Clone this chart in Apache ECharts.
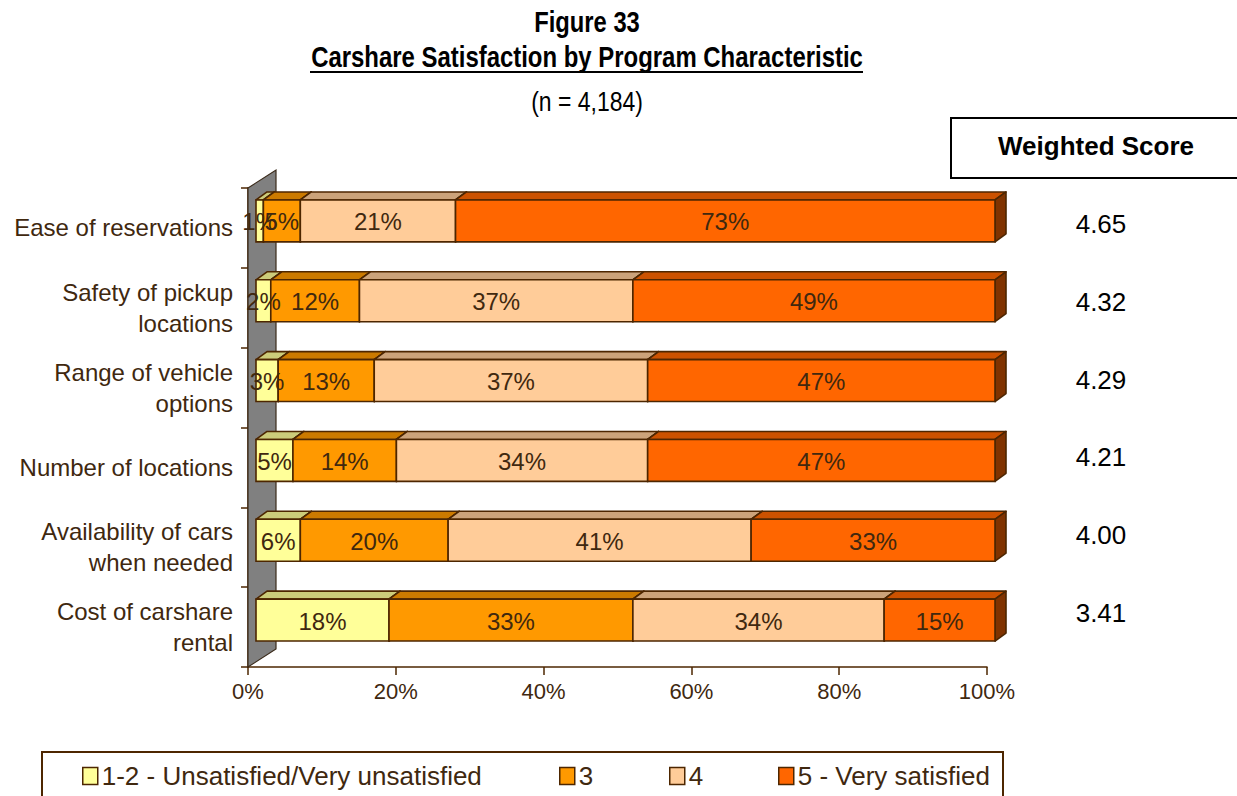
<!DOCTYPE html>
<html>
<head>
<meta charset="utf-8">
<script src="https://cdn.jsdelivr.net/npm/echarts@6/dist/echarts.min.js"></script>
<style>
  html, body { margin: 0; padding: 0; background: #ffffff; }
  #chart { width: 1237px; height: 796px; }
</style>
</head>
<body>
<div id="chart"></div>
<script>
// Survey categories (top to bottom) and the share of responses per rating, in percent
const categories = [
  'Ease of reservations',
  'Safety of pickup\nlocations',
  'Range of vehicle\noptions',
  'Number of locations',
  'Availability of cars\nwhen needed',
  'Cost of carshare\nrental'
];
const seriesNames = ['1-2 - Unsatisfied/Very unsatisfied', '3', '4', '5 - Very satisfied'];
const unsatisfied   = [1, 2, 3, 5, 6, 18];
const rating3       = [5, 12, 13, 14, 20, 33];
const rating4       = [21, 37, 37, 34, 41, 34];
const verySatisfied = [73, 49, 47, 47, 33, 15];
const weightedScores = [4.65, 4.32, 4.29, 4.21, 4.00, 3.41];
const xTicks = [0, 20, 40, 60, 80, 100];

const seriesValues = [unsatisfied, rating3, rating4, verySatisfied];
const faceColors = [
  { front: '#FFFF99', top: '#CCCC7A', side: '#999973' },
  { front: '#FF9900', top: '#CC7A00', side: '#7F4C00' },
  { front: '#FFCC99', top: '#CCA37A', side: '#7F664C' },
  { front: '#FF6600', top: '#CC5200', side: '#803300' }
];
const EDGE = '#4D2600';
const TEXT_BROWN = '#40280F';
const FONT = '"Liberation Sans", Arial, sans-serif';

// 3D look: the bar front sits slightly in front of the wall, the depth goes up-right
const FRONT = [8, -7];
const DEPTH = [11, -8];
const WALL_DEPTH = [28, -18];

function renderSegment(params, api) {
  const x0 = api.value(0), x1 = api.value(1), cat = api.value(2), pct = api.value(3);
  const c = faceColors[params.seriesIndex - 1];
  const p0 = api.coord([x0, cat]);
  const p1 = api.coord([x1, cat]);
  const h = api.size([0, 1])[1] * 0.525;
  const left = p0[0] + FRONT[0], right = p1[0] + FRONT[0];
  const top = p0[1] + FRONT[1] - h / 2, bottom = top + h;
  const dx = DEPTH[0], dy = DEPTH[1];
  const lw = 1.6;
  return {
    type: 'group',
    children: [
      { type: 'polygon', shape: { points: [[left, top], [left + dx, top + dy], [right + dx, top + dy], [right, top]] },
        style: { fill: c.top, stroke: EDGE, lineWidth: lw, lineJoin: 'round' } },
      { type: 'polygon', shape: { points: [[right, top], [right + dx, top + dy], [right + dx, bottom + dy], [right, bottom]] },
        style: { fill: c.side, stroke: EDGE, lineWidth: lw, lineJoin: 'round' } },
      { type: 'rect', shape: { x: left, y: top, width: right - left, height: h },
        style: { fill: c.front, stroke: EDGE, lineWidth: lw } },
      { type: 'text', z2: 100,
        style: { text: pct + '%', x: (left + right) / 2, y: (top + bottom) / 2 + 1,
                 align: 'center', verticalAlign: 'middle',
                 fontSize: 24, fontFamily: FONT, fill: TEXT_BROWN } }
    ]
  };
}

function renderWall(params, api) {
  const cs = params.coordSys;
  const x = cs.x, y = cs.y, b = cs.y + cs.height;
  return {
    type: 'polygon',
    shape: { points: [[x, y], [x + WALL_DEPTH[0], y + WALL_DEPTH[1]], [x + WALL_DEPTH[0], b + WALL_DEPTH[1]], [x, b]] },
    style: { fill: '#808080', stroke: '#3A2A1A', lineWidth: 1.2 }
  };
}

function renderScore(params, api) {
  const p = api.coord([api.value(0), api.value(1)]);
  return {
    type: 'text',
    style: { text: api.value(2).toFixed(2), x: p[0], y: p[1], align: 'center', verticalAlign: 'middle',
             fontSize: 26, fontFamily: FONT, fill: '#000000' }
  };
}

// cumulative stacking of the four ratings
const barSeries = seriesValues.map((vals, s) => {
  const data = vals.map((v, i) => {
    let start = 0;
    for (let k = 0; k < s; k++) start += seriesValues[k][i];
    return [start, start + v, i, v];
  });
  return {
    name: seriesNames[s],
    type: 'custom',
    xAxisIndex: 0, yAxisIndex: 0,
    renderItem: renderSegment,
    encode: { x: [0, 1], y: 2 },
    itemStyle: { color: faceColors[s].front, borderColor: EDGE, borderWidth: 1.5 },
    z: 3,
    data: data
  };
});

const legendLefts = [82, 559, 669, 778];
const legends = seriesNames.map((n, i) => ({
  data: [n],
  left: legendLefts[i],
  top: 763,
  padding: 0,
  icon: 'rect',
  itemWidth: 15,
  itemHeight: 17,
  selectedMode: false,
  itemStyle: { borderColor: EDGE, borderWidth: 1.5 },
  textStyle: { fontSize: 26, fontFamily: FONT, color: TEXT_BROWN, padding: [0, 0, 0, -1] }
}));

// condensed bold heading, drawn by squeezing a regular face horizontally
function headingText(text, y, size, weight, squeeze) {
  return {
    type: 'text', x: 587, y: y, scaleX: squeeze, scaleY: 1,
    style: { text: text, align: 'center', verticalAlign: 'middle', fontSize: size,
             fontWeight: weight, fontFamily: FONT, fill: '#000000' }
  };
}

const chart = echarts.init(document.getElementById('chart'), null, { renderer: 'svg' });
chart.setOption({
  backgroundColor: '#ffffff',
  animation: false,
  legend: legends,
  grid: [
    { left: 248, top: 188, width: 739, height: 479 },
    { left: 1051, top: 185, width: 100, height: 467 }
  ],
  xAxis: [
    {
      type: 'value', gridIndex: 0,
      min: xTicks[0], max: xTicks[xTicks.length - 1], interval: xTicks[1] - xTicks[0],
      axisLine: { show: true, lineStyle: { color: EDGE, width: 1.5 } },
      axisTick: { show: true, length: 8, lineStyle: { color: EDGE, width: 1.5 } },
      splitLine: { show: false },
      axisLabel: { formatter: '{value}%', fontSize: 22, fontFamily: FONT, color: TEXT_BROWN, margin: 13 }
    },
    { type: 'value', gridIndex: 1, min: 0, max: 1, show: false }
  ],
  yAxis: [
    {
      type: 'category', gridIndex: 0, inverse: true, data: categories,
      axisLine: { show: true, lineStyle: { color: EDGE, width: 1.5 } },
      axisTick: { show: true, length: 7, lineStyle: { color: EDGE, width: 1.5 } },
      axisLabel: { fontSize: 24, fontFamily: FONT, color: TEXT_BROWN, margin: 15, lineHeight: 31,
                   align: 'right', padding: [0, 0, 4, 0] }
    },
    { type: 'category', gridIndex: 1, inverse: true, data: categories, show: false }
  ],
  series: [
    {
      name: 'wall', type: 'custom', xAxisIndex: 0, yAxisIndex: 0,
      renderItem: renderWall, data: [[0, 0]], z: 1, silent: true
    },
    ...barSeries,
    {
      name: 'Weighted Score', type: 'custom', xAxisIndex: 1, yAxisIndex: 1,
      renderItem: renderScore, encode: { x: 0, y: 1 },
      data: weightedScores.map((s, i) => [0.5, i, s]), z: 3
    }
  ],
  graphic: [
    headingText('Figure 33', 22, 29, 'bold', 0.82),
    headingText('Carshare Satisfaction by Program Characteristic', 57, 29, 'bold', 0.825),
    { type: 'line', shape: { x1: 310, y1: 72, x2: 863, y2: 72 }, style: { stroke: '#000000', lineWidth: 2 } },
    headingText('(n = 4,184)', 101, 27, 'normal', 0.85),
    { type: 'rect', shape: { x: 951, y: 118, width: 300, height: 60 }, style: { fill: 'none', stroke: '#000000', lineWidth: 2 } },
    { type: 'text', x: 1096, y: 146,
      style: { text: 'Weighted Score', align: 'center', verticalAlign: 'middle', fontSize: 26, fontWeight: 'bold', fontFamily: FONT, fill: '#000000' } },
    { type: 'rect', shape: { x: 42, y: 752, width: 961, height: 80 }, style: { fill: 'none', stroke: EDGE, lineWidth: 2 } }
  ]
});
</script>
</body>
</html>
